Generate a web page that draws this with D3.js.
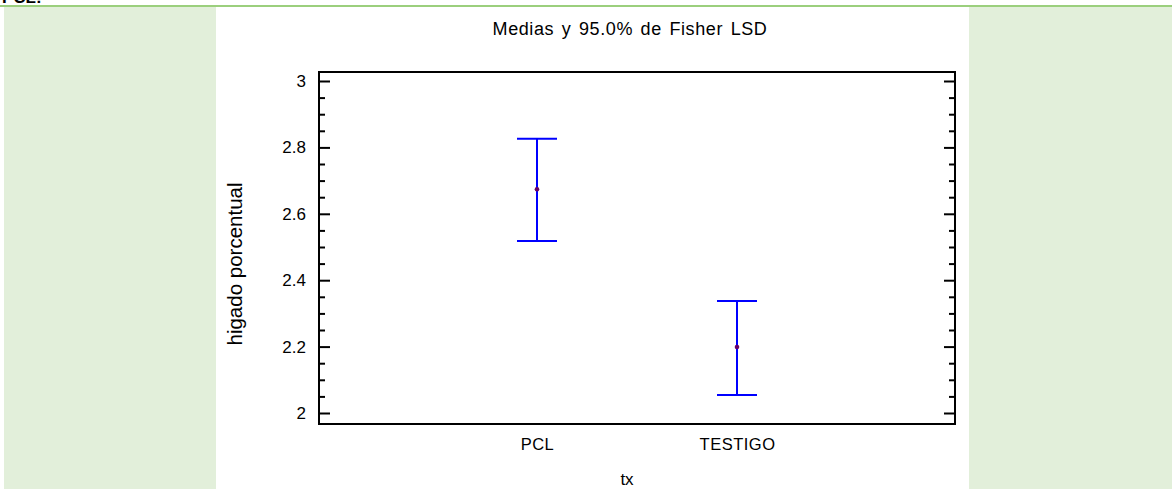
<!DOCTYPE html>
<html>
<head>
<meta charset="utf-8">
<script src="https://cdn.jsdelivr.net/npm/d3@7"></script>
<style>
  html, body { margin: 0; padding: 0; background: #ffffff; }
  svg { display: block; }
  text { font-family: "Liberation Sans", Arial, sans-serif; fill: #000; }
</style>
</head>
<body>
<svg id="chart" width="1172" height="489"></svg>
<script>
// Treatment groups and their means with 95% Fisher LSD intervals
const groups = ["PCL", "TESTIGO"];
const means = [2.674, 2.199];
const lower = [2.518, 2.054];
const upper = [2.826, 2.337];

// Y axis ticks
const yMajorTicks = [2, 2.2, 2.4, 2.6, 2.8, 3];
const yTickLabels = ["2", "2.2", "2.4", "2.6", "2.8", "3"];

const titleText = "Medias y 95.0% de Fisher LSD";
const xTitle = "tx";
const yTitle = "higado porcentual";

const W = 1172, H = 489;
const plot = { left: 319, right: 955, top: 72, bottom: 424 };

const svg = d3.select("#chart");

// Page background: green side panels and rule line
svg.append("rect").attr("x", 0).attr("y", 0).attr("width", W).attr("height", H).attr("fill", "#ffffff");
svg.append("rect").attr("x", 4).attr("y", 7).attr("width", 212).attr("height", H - 7).attr("fill", "#e2efda");
svg.append("rect").attr("x", 969).attr("y", 7).attr("width", W - 969).attr("height", H - 7).attr("fill", "#e2efda");
svg.append("line").attr("x1", 0).attr("x2", W).attr("y1", 6).attr("y2", 6)
  .attr("stroke", "#9bcf7d").attr("stroke-width", 2);
svg.append("text").attr("x", 2).attr("y", 3).attr("font-size", 17).attr("font-weight", "bold")
  .text("PCL:");

// Scales
const y = d3.scaleLinear()
  .domain([2 - 11 / 332, 3 + 9 / 332])
  .range([plot.bottom, plot.top]);

const x = d3.scalePoint()
  .domain(groups)
  .range([plot.left, plot.right])
  .padding(1.09);

// Minor ticks every 0.05 between the labelled ones
const yMinorTicks = d3.range(0, 21).map(i => 2 + i * 0.05)
  .filter(v => !yMajorTicks.some(m => Math.abs(m - v) < 1e-6));

const tickFmt = d => yTickLabels[yMajorTicks.findIndex(m => Math.abs(m - d) < 1e-6)];

function styleAxis(g) {
  g.select(".domain").remove();
  g.selectAll(".tick line").attr("stroke", "#000").attr("stroke-width", 2);
}

// Left axis (major with labels, minor without)
svg.append("g").attr("transform", `translate(${plot.left},0)`)
  .call(d3.axisLeft(y).tickValues(yMajorTicks).tickFormat(tickFmt).tickSize(-11).tickPadding(13))
  .call(styleAxis)
  .call(g => g.selectAll(".tick text").attr("font-size", 17).style("font-family", '"Liberation Sans", Arial, sans-serif'));
svg.append("g").attr("transform", `translate(${plot.left},0)`)
  .call(d3.axisLeft(y).tickValues(yMinorTicks).tickFormat("").tickSize(-6))
  .call(styleAxis);

// Right axis mirrors the ticks inward
svg.append("g").attr("transform", `translate(${plot.right},0)`)
  .call(d3.axisRight(y).tickValues(yMajorTicks).tickFormat("").tickSize(-11))
  .call(styleAxis);
svg.append("g").attr("transform", `translate(${plot.right},0)`)
  .call(d3.axisRight(y).tickValues(yMinorTicks).tickFormat("").tickSize(-6))
  .call(styleAxis);

// Bottom axis: category labels only
svg.append("g").attr("transform", `translate(0,${plot.bottom})`)
  .call(d3.axisBottom(x).tickSize(0).tickPadding(14))
  .call(g => g.select(".domain").remove())
  .call(g => g.selectAll(".tick text").attr("font-size", 16.5)
    .style("letter-spacing", "0.5px")
    .style("font-family", '"Liberation Sans", Arial, sans-serif'));

// Plot frame
svg.append("rect")
  .attr("x", plot.left).attr("y", plot.top)
  .attr("width", plot.right - plot.left).attr("height", plot.bottom - plot.top)
  .attr("fill", "none").attr("stroke", "#000").attr("stroke-width", 2);

// Interval bars
const rows = groups.map((gname, i) => ({ g: gname, m: means[i], lo: lower[i], hi: upper[i] }));
const capHalf = 20;
const bars = svg.append("g").selectAll("g").data(rows).join("g");
bars.append("line")
  .attr("x1", d => x(d.g)).attr("x2", d => x(d.g))
  .attr("y1", d => y(d.lo)).attr("y2", d => y(d.hi))
  .attr("stroke", "#0000ff").attr("stroke-width", 2);
bars.append("line")
  .attr("x1", d => x(d.g) - capHalf).attr("x2", d => x(d.g) + capHalf)
  .attr("y1", d => y(d.hi)).attr("y2", d => y(d.hi))
  .attr("stroke", "#0000ff").attr("stroke-width", 2);
bars.append("line")
  .attr("x1", d => x(d.g) - capHalf).attr("x2", d => x(d.g) + capHalf)
  .attr("y1", d => y(d.lo)).attr("y2", d => y(d.lo))
  .attr("stroke", "#0000ff").attr("stroke-width", 2);
bars.append("circle")
  .attr("cx", d => x(d.g)).attr("cy", d => y(d.m)).attr("r", 2.3)
  .attr("fill", "#660066");

// Titles
svg.append("text").attr("x", 630).attr("y", 35).attr("text-anchor", "middle")
  .attr("font-size", 18)
  .style("letter-spacing", "0.6px").style("word-spacing", "2px")
  .text(titleText);
svg.append("text").attr("x", 627).attr("y", 485).attr("text-anchor", "middle")
  .attr("font-size", 17).text(xTitle);
svg.append("text")
  .attr("transform", `translate(242,264) rotate(-90)`)
  .attr("text-anchor", "middle").attr("font-size", 20.5).text(yTitle);
</script>
</body>
</html>
